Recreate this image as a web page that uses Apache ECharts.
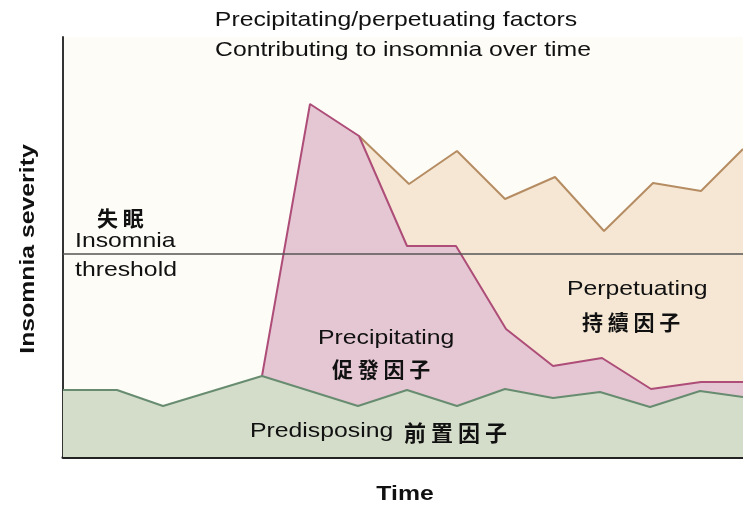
<!DOCTYPE html>
<html>
<head>
<meta charset="utf-8">
<script src="https://cdn.jsdelivr.net/npm/echarts@6/dist/echarts.min.js"></script>
<style>
  html, body { margin: 0; padding: 0; background: #fff; }
  #chart { width: 743px; height: 509px; }
</style>
</head>
<body>
<div id="chart"></div>
<script>
// top line of each band, [time, severity]
const predisposing = [
  [0, 6.7], [5.4, 6.7], [10, 5.1], [19.9, 8.1], [29.5, 5.1], [34.4, 6.7], [39.4, 5.1],
  [44.2, 6.8], [49, 5.9], [53.7, 6.5], [58.7, 5.0], [63.7, 6.6], [68, 6.0]
];
const precipitating = [
  [19.9, 8.1], [24.7, 35.3], [29.6, 32.1], [34.4, 21.1], [39.3, 21.1], [44.3, 12.8],
  [49, 9.1], [53.9, 9.9], [58.8, 6.8], [63.8, 7.5], [68, 7.5]
];
const perpetuating = [
  [29.6, 32.1], [34.6, 27.3], [39.4, 30.6], [44.2, 25.8], [49.2, 28], [54.1, 22.6],
  [59, 27.4], [63.8, 26.6], [68, 30.8]
];
const threshold = 20.3;

const chart = echarts.init(document.getElementById('chart'));

const latin = '"Liberation Sans", Arial, sans-serif';
const cjk = '"Noto Sans CJK TC", "Noto Sans CJK SC", serif';
const stretch = 1.18; // latin text in the picture is a bit wide

function band(name, data, line, fill, z) {
  return {
    name: name,
    type: 'line',
    data: data,
    z: z,
    symbol: 'none',
    silent: true,
    lineStyle: { color: line, width: 2 },
    areaStyle: { color: fill, opacity: 1 }
  };
}

// x = left edge, y = vertical middle
function txt(x, y, text, size, font, weight, sx) {
  return {
    type: 'text', x: x, y: y, z: 100, scaleX: sx || 1,
    style: {
      text: text, fontSize: size, fontFamily: font, fontWeight: weight || 'normal',
      fill: '#111', align: 'left', verticalAlign: 'middle'
    }
  };
}

chart.setOption({
  backgroundColor: '#fff',
  animation: false,
  grid: { left: 63, right: 0, top: 37, bottom: 52, show: true, backgroundColor: '#fdfcf7', borderWidth: 0 },
  xAxis: {
    type: 'value', min: 0, max: 68,
    axisLine: { show: true, onZero: false, lineStyle: { color: '#222', width: 3 } },
    axisTick: { show: false }, axisLabel: { show: false }, splitLine: { show: false }
  },
  yAxis: {
    type: 'value', min: 0, max: 42,
    axisLine: { show: true, lineStyle: { color: '#333', width: 2 } },
    axisTick: { show: false }, axisLabel: { show: false }, splitLine: { show: false }
  },
  series: [
    band('Perpetuating', perpetuating, '#b68c62', '#f5e7d4', 2),
    band('Precipitating', precipitating, '#ad4d78', '#e5c7d3', 3),
    band('Predisposing', predisposing, '#678c70', '#d4ddca', 4),
    {
      name: 'Insomnia threshold',
      type: 'line',
      data: [[0, threshold], [68, threshold]],
      z: 5,
      symbol: 'none',
      silent: true,
      lineStyle: { color: '#555', width: 1.5 }
    }
  ],
  graphic: [
    {
      type: 'text', x: 396, y: 20, z: 100, scaleX: stretch,
      style: {
        text: 'Precipitating/perpetuating factors', fontSize: 21, fontFamily: latin,
        fill: '#111', align: 'center', verticalAlign: 'middle'
      }
    },
    {
      type: 'text', x: 403, y: 50, z: 100, scaleX: stretch,
      style: {
        text: 'Contributing to insomnia over time', fontSize: 21, fontFamily: latin,
        fill: '#111', align: 'center', verticalAlign: 'middle'
      }
    },
    {
      type: 'text', z: 100, x: 28, y: 249, rotation: Math.PI / 2, scaleX: stretch,
      style: {
        text: 'Insomnia severity', fontSize: 21, fontWeight: 'bold', fontFamily: latin,
        fill: '#111', align: 'center', verticalAlign: 'middle'
      }
    },
    {
      type: 'text', z: 100, x: 405, y: 494, scaleX: stretch,
      style: {
        text: 'Time', fontSize: 21, fontWeight: 'bold', fontFamily: latin,
        fill: '#111', align: 'center', verticalAlign: 'middle'
      }
    },
    txt(97, 218, '失 眠', 21, cjk, 'bold'),
    txt(75, 241, 'Insomnia', 21, latin, 'normal', stretch),
    txt(75, 270, 'threshold', 21, latin, 'normal', stretch),
    txt(318, 338, 'Precipitating', 21, latin, 'normal', stretch),
    txt(332, 369, '促 發 因 子', 21, cjk, 'bold'),
    txt(567, 289, 'Perpetuating', 21, latin, 'normal', stretch),
    txt(582, 322, '持 續 因 子', 21, cjk, 'bold'),
    txt(250, 431, 'Predisposing', 21, latin, 'normal', stretch),
    txt(404, 433, '前 置 因 子', 22, cjk, 'bold')
  ]
});
</script>
</body>
</html>
